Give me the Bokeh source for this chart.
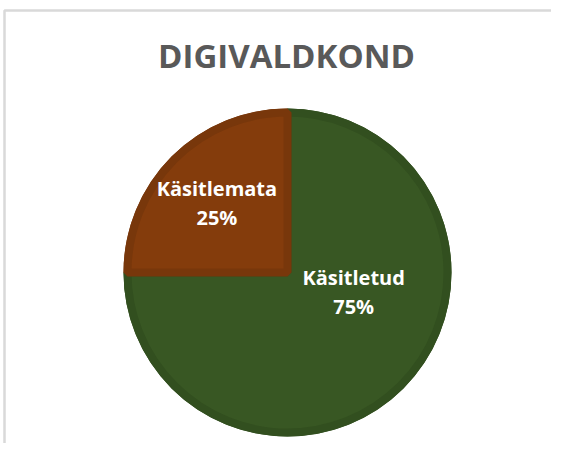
import math
from bokeh.plotting import figure
from bokeh.models import Range1d, ColumnDataSource
from bokeh.core.properties import value
from bokeh.embed import file_html
from bokeh.resources import INLINE

# data
categories = ["Käsitletud", "Käsitlemata"]
shares = [75, 25]
pct_labels = ["75%", "25%"]
colors = ["#385723", "#843C0C"]
edge_colors = ["#324f1f", "#78370b"]
title = "DIGIVALDKOND"

W, H = 551, 443
p = figure(width=W, height=H, output_backend="svg", toolbar_location=None,
           x_range=Range1d(0, W), y_range=Range1d(0, H),
           min_border=0, outline_line_color=None)
p.axis.visible = False
p.grid.visible = False
p.background_fill_color = "white"
p.border_fill_color = "white"

# chart border (left and top visible)
p.line(x=[4, 4, W + 10], y=[-10, H - 10, H - 10], line_color="#d9d9d9", line_width=2.5)

cx, cy, R = 287, 171, 164
total = sum(shares)
starts, ends = [], []
cum = 0
for s in shares:
    c0 = cum / total
    cum += s
    c1 = cum / total
    starts.append(math.pi / 2 - 2 * math.pi * c1)
    ends.append(math.pi / 2 - 2 * math.pi * c0)

src = ColumnDataSource(dict(cat=categories, start=starts, end=ends, color=colors, edge=edge_colors))
p.wedge(x=cx, y=cy, radius=R, start_angle="start", end_angle="end", fill_color="edge",
        line_color=None, source=src)
p.wedge(x=cx, y=cy, radius=R - 4, start_angle="start", end_angle="end", fill_color="color",
        line_color="edge", line_width=8, source=src)

# label placement (polar offsets from centre)
label_r = [69, 99]
label_ang = [math.radians(-16.5), math.radians(135.5)]
lx = [cx + r * math.cos(a) for r, a in zip(label_r, label_ang)]
ly = [cy + r * math.sin(a) for r, a in zip(label_r, label_ang)]
ldat = ColumnDataSource(dict(x=lx, y1=[y + 14.5 for y in ly], y2=[y - 14.5 for y in ly],
                             cat=categories, pct=pct_labels))
for col, yc in (("cat", "y1"), ("pct", "y2")):
    p.text(x="x", y=yc, text=col, source=ldat, text_color="white",
           text_font=value("Open Sans"), text_font_style="bold", text_font_size="20px",
           text_align="center", text_baseline="middle")

p.text(x=[286], y=[H - 54.5], text=[title], text_color="#595959",
       text_font=value("Open Sans"), text_font_style="bold", text_font_size="33px",
       text_align="center", text_baseline="middle")

open("out.html", "w").write(file_html(p, INLINE))
